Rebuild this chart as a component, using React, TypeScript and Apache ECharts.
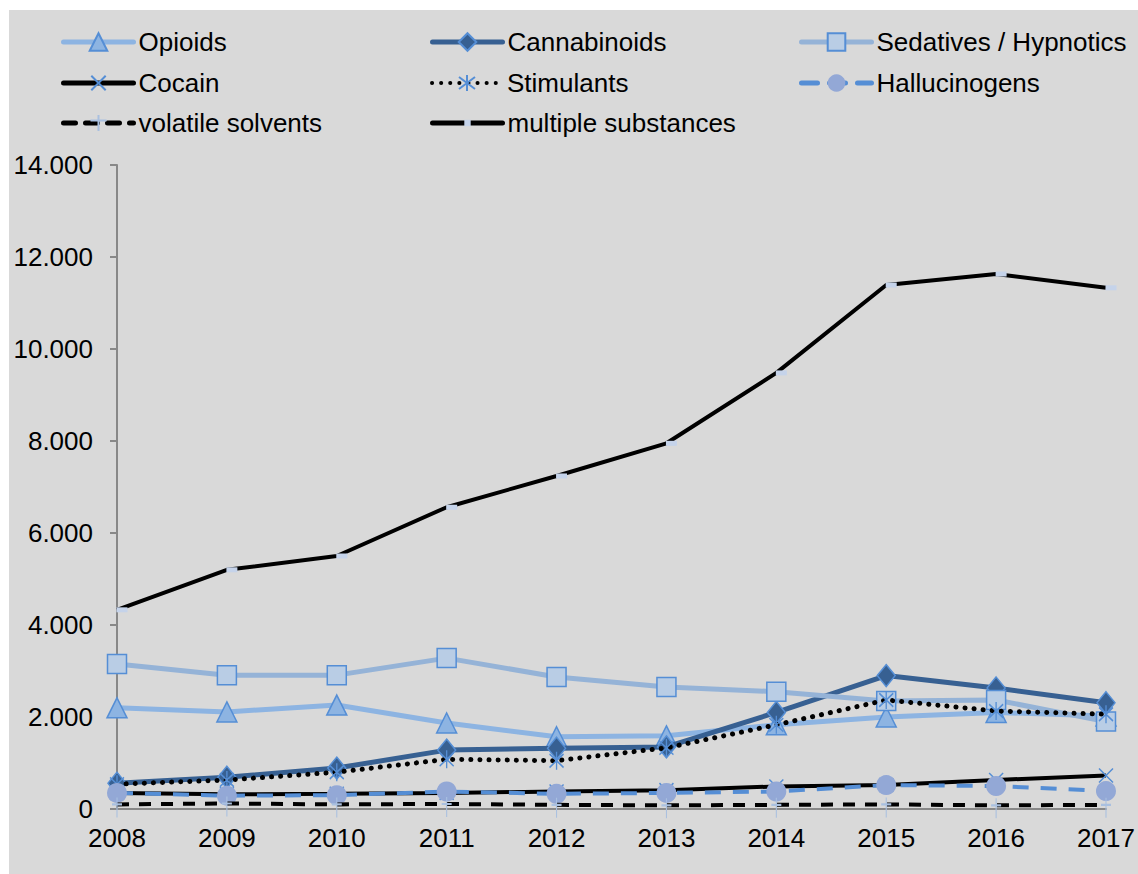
import React, { useEffect, useRef } from "react";
import * as echarts from "echarts";

const years = ["2008", "2009", "2010", "2011", "2012", "2013", "2014", "2015", "2016", "2017"];

const opioids = [2200, 2110, 2260, 1870, 1570, 1590, 1830, 2000, 2100, 2020];
const cannabinoids = [560, 690, 890, 1280, 1320, 1350, 2100, 2900, 2630, 2310];
const sedatives = [3150, 2910, 2910, 3280, 2870, 2650, 2550, 2350, 2370, 1900];
const cocain = [350, 320, 330, 350, 380, 410, 490, 520, 630, 730];
const stimulants = [540, 630, 800, 1080, 1050, 1330, 1830, 2370, 2130, 2060];
const hallucinogens = [350, 290, 300, 380, 330, 350, 380, 520, 500, 390];
const volatileSolvents = [100, 120, 100, 110, 90, 80, 90, 100, 80, 90];
const multipleSubstances = [4330, 5200, 5500, 6560, 7240, 7950, 9480, 11390, 11630, 11330];

const yTicks = { min: 0, max: 14000, interval: 2000 };

const FONT = "'Liberation Sans', Arial, sans-serif";
const FS = 26;

const X_PATH = "path://M0,0L12,12M12,0L0,12";
const STAR_PATH = "path://M0,2L12,14M12,2L0,14M6,0L6,16";
const PLUS_PATH = "path://M5,0L5,20M0,7L10,7";

function fmt(v: number): string {
  return String(v).replace(/\B(?=(\d{3})+(?!\d))/g, ".");
}

export default function App() {
  const ref = useRef<HTMLDivElement>(null);

  useEffect(() => {
    if (!ref.current) return;
    const chart = echarts.init(ref.current, undefined, { renderer: "svg" });

    const legendAt = (
      name: string,
      left: number,
      rowCenter: number,
      itemHeight: number,
      lineWidth: number
    ) => ({
      show: true,
      data: [name],
      left,
      top: rowCenter - 15,
      padding: 0,
      itemWidth: 70,
      itemHeight,
      itemGap: 0,
      selectedMode: false,
      lineStyle: { width: lineWidth, cap: "round" },
      textStyle: { fontFamily: FONT, fontSize: FS, color: "#000", lineHeight: 30 },
    });

    const c1 = 52, c2 = 421, c3 = 790;
    const r1 = 32, r2 = 73, r3 = 113;

    chart.setOption({
      animation: false,
      backgroundColor: "#d9d9d9",
      textStyle: { fontFamily: FONT },
      legend: [
        legendAt("Opioids", c1, r1, 22, 5),
        legendAt("Cannabinoids", c2, r1, 22, 5),
        legendAt("Sedatives / Hypnotics", c3, r1, 22, 5),
        legendAt("Cocain", c1, r2, 18, 5),
        legendAt("Stimulants", c2, r2, 20, 4),
        legendAt("Hallucinogens", c3, r2, 22, 5),
        legendAt("volatile solvents", c1, r3, 20, 5),
        legendAt("multiple substances", c2, r3, 8, 5),
      ],
      grid: { left: 108, right: 32, top: 155, bottom: 65, containLabel: false },
      xAxis: {
        type: "category",
        data: years,
        boundaryGap: false,
        axisLine: { lineStyle: { color: "#888888", width: 2 } },
        axisTick: { show: false },
        axisLabel: { fontFamily: FONT, fontSize: FS, color: "#000", margin: 16 },
      },
      yAxis: {
        type: "value",
        min: yTicks.min,
        max: yTicks.max,
        interval: yTicks.interval,
        splitLine: { show: false },
        axisLine: { show: true, lineStyle: { color: "#888888", width: 2 } },
        axisTick: { show: true, length: 7, lineStyle: { color: "#888888", width: 2 } },
        axisLabel: {
          fontFamily: FONT,
          fontSize: FS,
          color: "#000",
          margin: 24,
          formatter: (v: number) => fmt(v),
        },
      },
      series: [
        {
          name: "Opioids",
          type: "line",
          data: opioids,
          symbol: "triangle",
          symbolSize: 20,
          lineStyle: { color: "#8db4e2", width: 5 },
          itemStyle: { color: "#8db4e2", borderColor: "#558ed5", borderWidth: 1.5 },
          silent: true,
          z: 2,
        },
        {
          name: "Cannabinoids",
          type: "line",
          data: cannabinoids,
          symbol: "diamond",
          symbolSize: [18, 22],
          lineStyle: { color: "#376092", width: 5 },
          itemStyle: { color: "#376092", borderColor: "#558ed5", borderWidth: 1.5 },
          silent: true,
          z: 3,
        },
        {
          name: "Sedatives / Hypnotics",
          type: "line",
          data: sedatives,
          symbol: "rect",
          symbolSize: 19,
          lineStyle: { color: "#95b3d7", width: 5 },
          itemStyle: { color: "#b9cde5", borderColor: "#558ed5", borderWidth: 1.5 },
          silent: true,
          z: 4,
        },
        {
          name: "Cocain",
          type: "line",
          data: cocain,
          symbol: X_PATH,
          symbolSize: 14,
          lineStyle: { color: "#000000", width: 4 },
          itemStyle: { color: "transparent", borderColor: "#558ed5", borderWidth: 1.5 },
          silent: true,
          z: 5,
        },
        {
          name: "Stimulants",
          type: "line",
          data: stimulants,
          symbol: STAR_PATH,
          symbolSize: [14, 18],
          lineStyle: { color: "#000000", width: 5, type: [0.1, 9], cap: "round" },
          itemStyle: { color: "transparent", borderColor: "#558ed5", borderWidth: 1.5 },
          silent: true,
          z: 6,
        },
        {
          name: "Hallucinogens",
          type: "line",
          data: hallucinogens,
          symbol: "circle",
          symbolSize: 20,
          lineStyle: { color: "#558ed5", width: 4, type: [16, 12] },
          itemStyle: { color: "#93a8d6", borderWidth: 0 },
          silent: true,
          z: 7,
        },
        {
          name: "volatile solvents",
          type: "line",
          data: volatileSolvents,
          symbol: PLUS_PATH,
          symbolSize: [10, 20],
          symbolOffset: [0, 3],
          lineStyle: { color: "#000000", width: 4, type: [12, 10] },
          itemStyle: { color: "transparent", borderColor: "#a9c0e0", borderWidth: 1.5 },
          silent: true,
          z: 8,
        },
        {
          name: "multiple substances",
          type: "line",
          data: multipleSubstances,
          symbol: "rect",
          symbolSize: [11, 5],
          symbolOffset: [5, 0],
          lineStyle: { color: "#000000", width: 4 },
          itemStyle: { color: "#c5d3ea", borderWidth: 0 },
          silent: true,
          z: 9,
        },
      ],
    });

    return () => chart.dispose();
  }, []);

  return (
    <div style={{ position: "fixed", left: 0, top: 0, width: 1138, height: 874, background: "#ffffff" }}>
      <div ref={ref} style={{ position: "absolute", left: 9, top: 10, width: 1129, height: 864 }} />
    </div>
  );
}
